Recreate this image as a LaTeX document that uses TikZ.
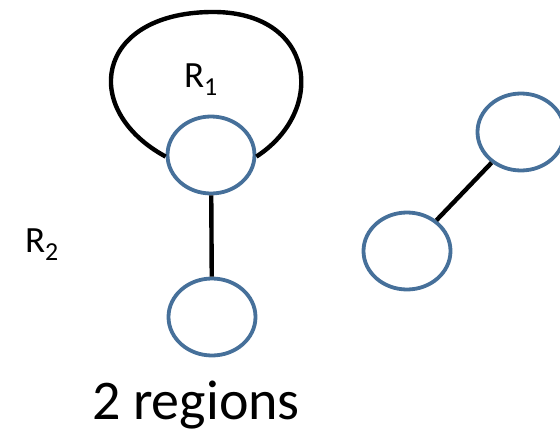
\documentclass[tikz,border=0pt]{standalone}
\usepackage{fontspec}
\setmainfont{Carlito}
\usetikzlibrary{shapes.geometric}

\definecolor{vertexblue}{HTML}{46709A}

\begin{document}
\begin{tikzpicture}[
    x=1pt, y=-1pt,
    vertex/.style={ellipse, draw=vertexblue, line width=3.8pt, fill=white, minimum width=87pt, minimum height=77pt, inner sep=0pt},
    edge/.style={draw=black, line width=4.4pt},
    region/.style={font=\fontsize{37}{40}\selectfont, inner sep=0pt}
]
    \useasboundingbox (0,0) rectangle (560,434);

    % vertices
    \node [vertex] (top) at (211,155) {};
    \node [vertex] (bottom) at (212,317) {};
    \node [vertex] (left) at (407,251) {};
    \node [vertex] (right) at (521,132) {};

    % edges
    \draw [edge] (top) -- (bottom);
    \draw [edge] (left) -- (right);
    \draw [edge] (top.182) .. controls (80,110) and (95,14) .. (210,12) .. controls (315,10) and (328,110) .. (top.-2);

    % labels
    \node [region] (r1) at (201,80) {R\textsubscript{1}};
    \node [region] (r2) at (42,245) {R\textsubscript{2}};
    \node [font=\fontsize{56}{60}\selectfont, inner sep=0pt] (caption) at (196,405) {2 regions};
\end{tikzpicture}
\end{document}
